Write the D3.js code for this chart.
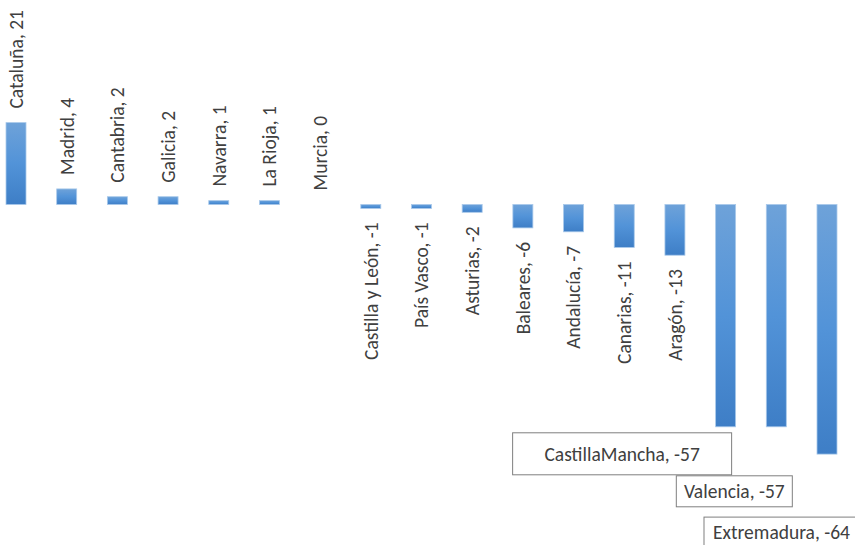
<!DOCTYPE html>
<html>
<head>
<meta charset="utf-8">
<script src="https://cdn.jsdelivr.net/npm/d3@7"></script>
<style>
  body { margin: 0; background: #fff; }
  .lbl { font-family: Carlito, Calibri, Lato, sans-serif; font-size: 19.5px; fill: #404040; }
</style>
</head>
<body>
<svg id="chart"></svg>
<script>
// datos
var regions = ["Cataluña", "Madrid", "Cantabria", "Galicia", "Navarra", "La Rioja", "Murcia",
  "Castilla y León", "País Vasco", "Asturias", "Baleares", "Andalucía", "Canarias", "Aragón",
  "CastillaMancha", "Valencia", "Extremadura"];
var values = [21, 4, 2, 2, 1, 1, 0, -1, -1, -2, -6, -7, -11, -13, -57, -57, -64];

// etiquetas en caja (las tres últimas barras)
var boxed = [
  {i: 14, dx: -203, dy: 6, w: 219, h: 42},
  {i: 15, dx: -90, dy: 49, w: 116, h: 31},
  {i: 16, dx: -113, dy: 63, w: 155, h: 31}
];

var W = 855, H = 545, gap = 14;

var svg = d3.select("#chart").attr("width", W).attr("height", H);

var x = d3.scaleBand()
  .domain(regions)
  .range([-9.2, 852.2])
  .paddingInner(0.6055)
  .paddingOuter(0.3);

var y = d3.scaleLinear().domain([-64, 21]).range([454.1, 122.6]);

var grad = svg.append("defs").append("linearGradient")
  .attr("id", "barGrad").attr("x1", 0).attr("y1", 0).attr("x2", 0).attr("y2", 1);
grad.append("stop").attr("offset", "0%").attr("stop-color", "#6ea2d9");
grad.append("stop").attr("offset", "50%").attr("stop-color", "#5293d8");
grad.append("stop").attr("offset", "100%").attr("stop-color", "#3e7ec6");

var data = regions.map(function(r, i) { return {name: r, v: values[i], i: i}; });

// barras
svg.selectAll("rect.bar")
  .data(data.filter(function(d) { return d.v !== 0; }))
  .enter()
  .append("rect")
  .attr("class", "bar")
  .attr("x", function(d) { return x(d.name); })
  .attr("y", function(d) { return Math.min(y(d.v), y(0)); })
  .attr("width", x.bandwidth())
  .attr("height", function(d) { return Math.max(Math.abs(y(d.v) - y(0)), 2.5); })
  .attr("fill", "url(#barGrad)")
  .attr("stroke", "#a9c9ea")
  .attr("stroke-width", 0.8);

// etiquetas verticales
var boxedIdx = boxed.map(function(b) { return b.i; });

svg.selectAll("text.vlbl")
  .data(data.filter(function(d) { return boxedIdx.indexOf(d.i) < 0; }))
  .enter()
  .append("text")
  .attr("class", "lbl vlbl")
  .attr("transform", function(d) {
    var cx = x(d.name) + x.bandwidth() / 2;
    var ty = d.v >= 0 ? y(d.v) - gap : y(d.v) + gap;
    return "translate(" + cx + "," + ty + ") rotate(-90)";
  })
  .attr("dy", "0.35em")
  .attr("text-anchor", function(d) { return d.v >= 0 ? "start" : "end"; })
  .text(function(d) { return d.name + ", " + d.v; });

// etiquetas en caja
var g = svg.selectAll("g.box")
  .data(boxed)
  .enter()
  .append("g")
  .attr("class", "box")
  .attr("transform", function(b) {
    var d = data[b.i];
    return "translate(" + (x(d.name) + b.dx) + "," + (y(d.v) + b.dy) + ")";
  });

g.append("rect")
  .attr("width", function(b) { return b.w; })
  .attr("height", function(b) { return b.h; })
  .attr("fill", "#fff")
  .attr("stroke", "#7f7f7f")
  .attr("stroke-width", 1);

g.append("text")
  .attr("class", "lbl")
  .attr("x", function(b) { return b.w / 2; })
  .attr("y", function(b) { return b.h / 2; })
  .attr("dy", "0.35em")
  .attr("text-anchor", "middle")
  .text(function(b) { var d = data[b.i]; return d.name + ", " + d.v; });
</script>
</body>
</html>
